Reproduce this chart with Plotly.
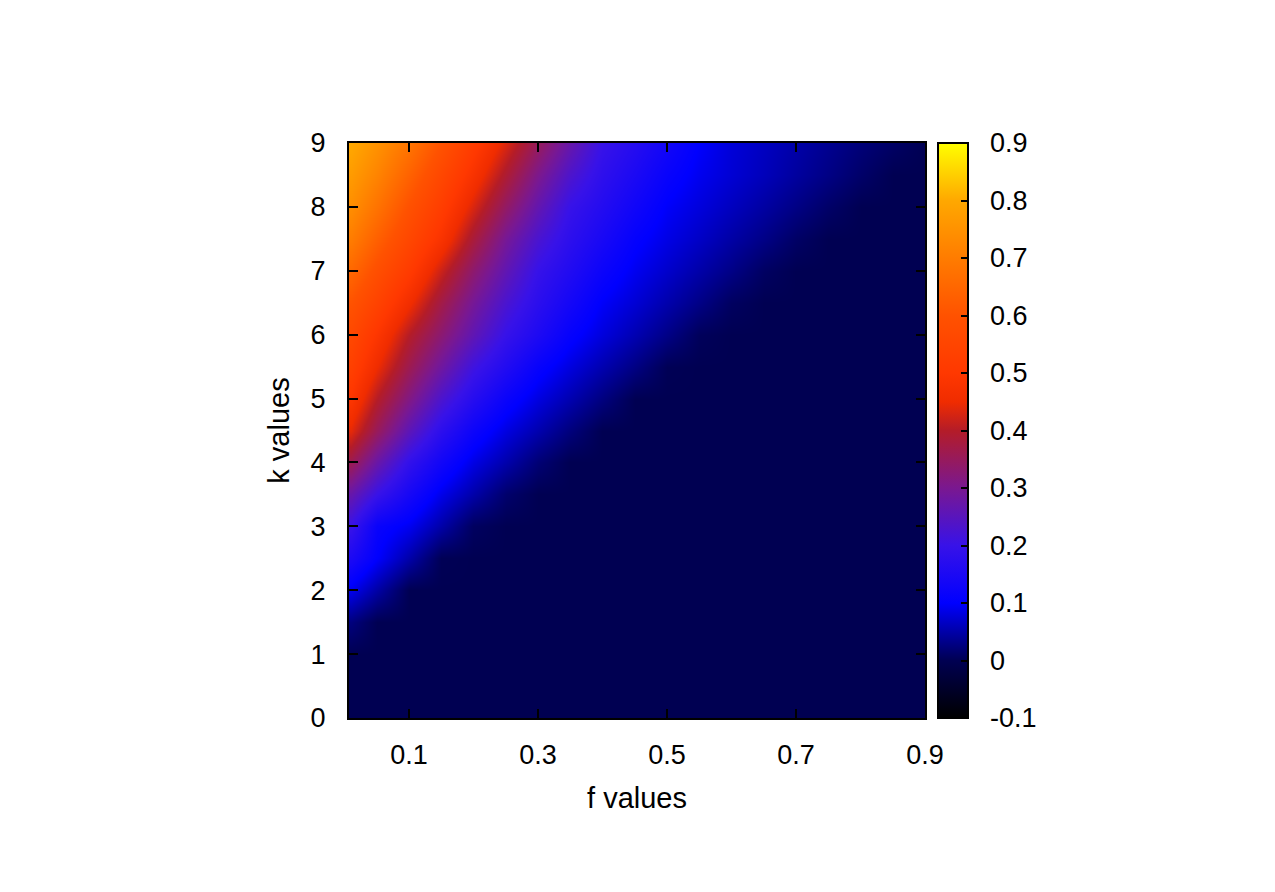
import plotly.graph_objects as go

# values, rows are k, columns are f
f_values = [0.01, 0.05, 0.1, 0.15, 0.2, 0.25, 0.3, 0.35, 0.4, 0.45,
            0.5, 0.55, 0.6, 0.65, 0.7, 0.75, 0.8, 0.85, 0.9]
k_values = [0, 1, 1.5, 2, 2.5, 3, 3.5, 4, 4.5, 5, 5.5, 6, 6.5, 7, 7.5, 8, 8.5, 9]

row_k0_0 = [0, 0, 0, 0, 0, 0, 0, 0, 0, 0, 0, 0, 0, 0, 0, 0, 0, 0, 0]
row_k1_0 = [0, 0, 0, 0, 0, 0, 0, 0, 0, 0, 0, 0, 0, 0, 0, 0, 0, 0, 0]
row_k1_5 = [0.025, 0, 0, 0, 0, 0, 0, 0, 0, 0, 0, 0, 0, 0, 0, 0, 0, 0, 0]
row_k2_0 = [0.09, 0.048, 0, 0, 0, 0, 0, 0, 0, 0, 0, 0, 0, 0, 0, 0, 0, 0, 0]
row_k2_5 = [0.15, 0.10, 0.051, 0.002, 0, 0, 0, 0, 0, 0, 0, 0, 0, 0, 0, 0, 0, 0, 0]
row_k3_0 = [0.20, 0.116, 0.092, 0.05, 0.008, 0, 0, 0, 0, 0, 0, 0, 0, 0, 0, 0, 0, 0, 0]
row_k3_5 = [0.27, 0.20, 0.14, 0.088, 0.051, 0.015, 0, 0, 0, 0, 0, 0, 0, 0, 0, 0, 0, 0, 0]
row_k4_0 = [0.36, 0.274, 0.189, 0.131, 0.085, 0.052, 0.02, 0, 0, 0, 0, 0, 0, 0, 0, 0, 0, 0, 0]
row_k4_5 = [0.44, 0.35, 0.255, 0.178, 0.122, 0.082, 0.053, 0.024, 0, 0, 0, 0, 0, 0, 0, 0, 0, 0, 0]
row_k5_0 = [0.49, 0.40, 0.312, 0.23, 0.168, 0.117, 0.082, 0.054, 0.026, 0, 0, 0, 0, 0, 0, 0, 0, 0, 0]
row_k5_5 = [0.53, 0.45, 0.36, 0.283, 0.21, 0.159, 0.112, 0.081, 0.054, 0.028, 0.002, 0, 0, 0, 0, 0, 0, 0, 0]
row_k6_0 = [0.56, 0.491, 0.40, 0.329, 0.26, 0.196, 0.152, 0.109, 0.08, 0.055, 0.03, 0.005, 0, 0, 0, 0, 0, 0, 0]
row_k6_5 = [0.60, 0.54, 0.457, 0.369, 0.293, 0.227, 0.176, 0.135, 0.097, 0.075, 0.052, 0.03, 0.008, 0, 0, 0, 0, 0, 0]
row_k7_0 = [0.65, 0.585, 0.512, 0.419, 0.333, 0.26, 0.196, 0.158, 0.12, 0.091, 0.07, 0.05, 0.03, 0.009, 0, 0, 0, 0, 0]
row_k7_5 = [0.70, 0.633, 0.557, 0.48, 0.382, 0.293, 0.227, 0.179, 0.143, 0.107, 0.085, 0.067, 0.048, 0.03, 0.011, 0, 0, 0, 0]
row_k8_0 = [0.74, 0.678, 0.595, 0.52, 0.431, 0.341, 0.264, 0.198, 0.163, 0.128, 0.097, 0.08, 0.063, 0.046, 0.029, 0.0125, 0, 0, 0]
row_k8_5 = [0.77, 0.717, 0.638, 0.558, 0.477, 0.388, 0.303, 0.232, 0.182, 0.148, 0.114, 0.091, 0.075, 0.06, 0.044, 0.029, 0.013, 0, 0]
row_k9_0 = [0.80, 0.75, 0.683, 0.60, 0.517, 0.433, 0.35, 0.271, 0.20, 0.167, 0.133, 0.10, 0.078, 0.064, 0.05, 0.036, 0.022, 0.011, 0]

z = [row_k0_0, row_k1_0, row_k1_5, row_k2_0, row_k2_5, row_k3_0,
     row_k3_5, row_k4_0, row_k4_5, row_k5_0, row_k5_5, row_k6_0,
     row_k6_5, row_k7_0, row_k7_5, row_k8_0, row_k8_5, row_k9_0]

x_ticks = [0.1, 0.3, 0.5, 0.7, 0.9]
y_ticks = [0, 1, 2, 3, 4, 5, 6, 7, 8, 9]
cb_ticks = [-0.1, 0, 0.1, 0.2, 0.3, 0.4, 0.5, 0.6, 0.7, 0.8, 0.9]
cb_labels = ["-0.1", "0", "0.1", "0.2", "0.3", "0.4", "0.5", "0.6", "0.7", "0.8", "0.9"]

# gnuplot-like palette, -0.1 .. 0.9
colorscale = [
    [0.0, "#000000"],
    [0.1, "#000052"],
    [0.2, "#0000ff"],
    [0.3, "#3812e8"],
    [0.4, "#7a1890"],
    [0.5, "#b41c28"],
    [0.55, "#f02c00"],
    [0.6, "#ff3800"],
    [0.7, "#ff5200"],
    [0.8, "#ff7c00"],
    [0.9, "#ffa800"],
    [1.0, "#ffff00"],
]

FONT = "Liberation Sans, Arial, Helvetica, sans-serif"
PAD = "\u00a0\u00a0"
TICK_FONT = dict(size=27, color="black", family=FONT)
TITLE_FONT = dict(size=29, color="black", family=FONT)

fig = go.Figure(go.Heatmap(
    x=f_values,
    y=k_values,
    z=z,
    zmin=-0.1,
    zmax=0.9,
    zsmooth="best",
    colorscale=colorscale,
    colorbar=dict(
        x=1.0226, xanchor="left", xpad=0,
        y=0.5, yanchor="middle", ypad=0,
        len=1, lenmode="fraction",
        thickness=30, thicknessmode="pixels",
        outlinecolor="black", outlinewidth=2,
        tickvals=cb_ticks, ticktext=[PAD + t for t in cb_labels],
        ticks="inside", ticklen=8, tickcolor="black", tickwidth=2,
        tickfont=TICK_FONT,
    ),
))

fig.update_xaxes(
    range=[0.007, 0.9],
    tickvals=x_ticks,
    ticktext=[str(v) for v in x_ticks],
    ticks="inside", ticklen=9, tickwidth=2, tickcolor="black",
    ticklabelstandoff=12,
    showline=True, linecolor="black", linewidth=2, mirror="ticks",
    showgrid=False, zeroline=False,
    title=dict(text="f values", standoff=18, font=TITLE_FONT),
    tickfont=TICK_FONT,
)
fig.update_yaxes(
    range=[0, 9],
    tickvals=y_ticks,
    ticks="inside", ticklen=9, tickwidth=2, tickcolor="black",
    ticklabelstandoff=16,
    showline=True, linecolor="black", linewidth=2, mirror="ticks",
    showgrid=False, zeroline=False,
    title=dict(text="k values", standoff=12, font=TITLE_FONT),
    tickfont=TICK_FONT,
)

fig.update_layout(
    width=1259, height=876,
    margin=dict(l=341, r=342, t=135, b=166),
    paper_bgcolor="white", plot_bgcolor="white",
    font=dict(family=FONT, size=24, color="black"),
)

fig.write_html("out.html")
